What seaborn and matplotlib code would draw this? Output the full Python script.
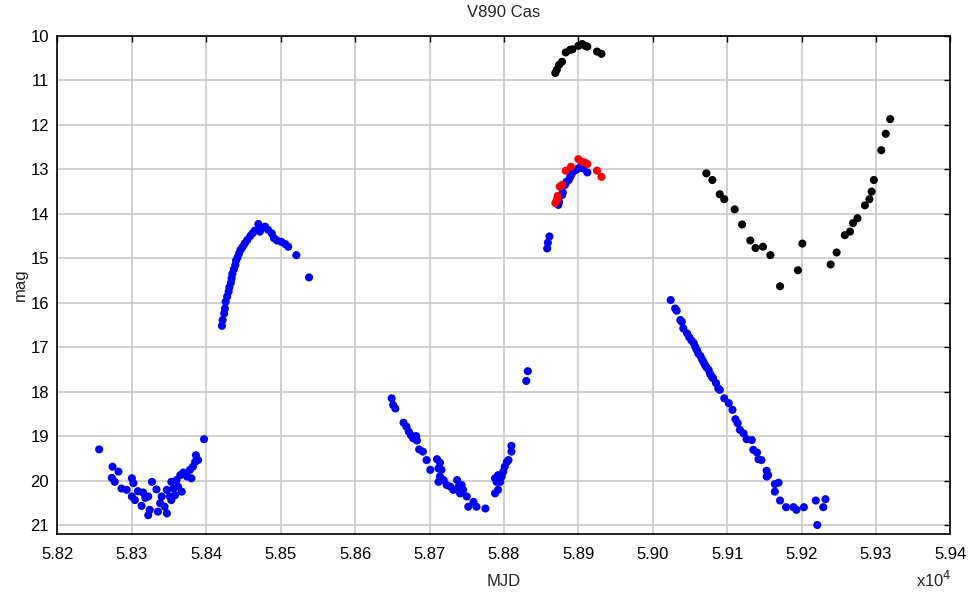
import numpy as np
import pandas as pd
import matplotlib
matplotlib.use("Agg")
import matplotlib.pyplot as plt
import seaborn as sns

# blue photometry (MJD, mag)
blue_mjd = [
    58256, 58397, 58274, 58282, 58273, 58277, 58286, 58293, 58300, 58302,
    58300, 58304, 58313, 58322, 58327, 58315, 58322, 58333, 58324, 58335,
    58347, 58338, 58344, 58340, 58347, 58353, 58356, 58360, 58367, 58365,
    58369, 58374, 58378, 58382, 58385, 58386, 58389, 58380, 58351, 58353,
    58358, 58362, 58318, 58308,
    58421, 58422, 58424, 58425, 58426, 58428, 58430, 58431, 58433, 58434,
    58435, 58437, 58439, 58440, 58442, 58444, 58446, 58449, 58452, 58455,
    58459, 58462, 58465, 58470, 58472, 58474, 58479, 58483, 58488, 58491,
    58495, 58501, 58506, 58510, 58521, 58538,
    58649, 58651, 58654, 58665, 58669, 58672, 58675, 58678, 58682, 58683,
    58686, 58691, 58696, 58701, 58710, 58714, 58712, 58716, 58714, 58712,
    58719, 58723, 58728, 58732, 58737, 58739, 58743, 58745, 58741, 58750,
    58752, 58759, 58763, 58775, 58788, 58792, 58790, 58788, 58792, 58795,
    58797, 58799, 58801, 58804, 58806, 58810, 58810, 58830, 58832,
    58861, 58859, 58858,
    58873, 58874, 58878, 58879, 58882, 58884, 58887, 58889, 58891, 58893,
    58897, 58900, 58903, 58906, 58912,
    59024, 59030, 59032, 59037, 59039, 59041, 59046, 59049, 59052, 59055,
    59057, 59059, 59061, 59064, 59066, 59068, 59070, 59072, 59075, 59077,
    59079, 59081, 59085, 59088, 59090, 59096, 59102, 59107, 59111, 59114,
    59117, 59122, 59126, 59133, 59135, 59140, 59142, 59146, 59153, 59155,
    59153, 59164, 59169, 59164, 59171, 59179, 59189, 59193, 59203, 59219,
    59232, 59229, 59221,
]
blue_mag = [
    19.30, 19.07, 19.69, 19.80, 19.94, 20.03, 20.18, 20.21, 19.95, 20.06,
    20.36, 20.44, 20.57, 20.78, 20.03, 20.27, 20.36, 20.20, 20.66, 20.70,
    20.74, 20.51, 20.59, 20.36, 20.21, 20.03, 20.18, 19.99, 20.25, 19.88,
    19.82, 19.91, 19.76, 19.69, 19.58, 19.43, 19.54, 19.95, 20.36, 20.44,
    20.33, 20.14, 20.39, 20.24,
    16.52, 16.39, 16.24, 16.13, 15.98, 15.86, 15.75, 15.65, 15.55, 15.45,
    15.35, 15.25, 15.15, 15.05, 14.98, 14.89, 14.81, 14.74, 14.66, 14.59,
    14.50, 14.44, 14.38, 14.23, 14.40, 14.33, 14.29, 14.36, 14.44, 14.55,
    14.60, 14.63, 14.68, 14.74, 14.93, 15.43,
    18.15, 18.30, 18.38, 18.70, 18.79, 18.90, 18.98, 19.05, 19.00, 19.10,
    19.30, 19.35, 19.54, 19.76, 19.52, 19.60, 19.73, 19.76, 19.91, 20.03,
    19.99, 20.10, 20.14, 20.21, 19.99, 20.14, 20.10, 20.21, 20.29, 20.36,
    20.59, 20.48, 20.59, 20.63, 19.95, 19.88, 20.03, 20.29, 20.21, 20.03,
    19.91, 19.80, 19.69, 19.58, 19.54, 19.35, 19.22, 17.76, 17.54,
    14.51, 14.65, 14.78,
    13.80, 13.73, 13.58, 13.52, 13.35, 13.28, 13.24, 13.17, 13.10, 13.05,
    13.01, 12.98, 12.94, 12.98, 13.07,
    15.94, 16.13, 16.18, 16.39, 16.43, 16.58, 16.69, 16.78, 16.85, 16.91,
    16.99, 17.06, 17.14, 17.20, 17.27, 17.33, 17.40, 17.45, 17.51, 17.60,
    17.66, 17.70, 17.81, 17.93, 17.96, 18.15, 18.26, 18.41, 18.62, 18.71,
    18.86, 18.94, 19.07, 19.09, 19.31, 19.37, 19.52, 19.54, 19.78, 19.88,
    19.91, 20.08, 20.05, 20.25, 20.45, 20.60, 20.60, 20.66, 20.60, 20.45,
    20.42, 20.60, 21.00,
]

# red photometry
red_mjd = [58869, 58871, 58872, 58875, 58878, 58883, 58890, 58900, 58905,
           58909, 58912, 58925, 58931]
red_mag = [13.76, 13.69, 13.60, 13.39, 13.35, 13.03, 12.94, 12.77, 12.83,
           12.85, 12.88, 13.03, 13.17]

# black photometry
black_mjd = [
    58869, 58871, 58874, 58878, 58883, 58889, 58892, 58900, 58905, 58909,
    58912, 58925, 58931,
    59072, 59080, 59090, 59096, 59110, 59120, 59131, 59138, 59148, 59158,
    59171, 59195, 59201, 59239, 59247, 59258, 59265, 59269, 59275, 59285,
    59291, 59294, 59297, 59307, 59313, 59319,
]
black_mag = [
    10.83, 10.76, 10.65, 10.58, 10.37, 10.31, 10.30, 10.22, 10.18, 10.22,
    10.24, 10.35, 10.40,
    13.09, 13.24, 13.56, 13.67, 13.90, 14.24, 14.60, 14.77, 14.74, 14.93,
    15.63, 15.27, 14.67, 15.14, 14.87, 14.48, 14.40, 14.21, 14.10, 13.81,
    13.67, 13.50, 13.24, 12.57, 12.20, 11.87,
]

df = pd.concat([
    pd.DataFrame({"MJD": blue_mjd, "mag": blue_mag, "band": "blue"}),
    pd.DataFrame({"MJD": black_mjd, "mag": black_mag, "band": "black"}),
    pd.DataFrame({"MJD": red_mjd, "mag": red_mag, "band": "red"}),
], ignore_index=True)

sns.set_style("whitegrid", {"grid.color": "#c8c8c8", "axes.edgecolor": "black"})
plt.rcParams["font.family"] = ["Liberation Sans", "DejaVu Sans"]

fig = plt.figure(figsize=(9.69, 5.94), dpi=100)
ax = fig.add_axes([0.0593, 0.1005, 0.9216, 0.8389])

sns.scatterplot(data=df, x="MJD", y="mag", hue="band",
                palette={"blue": "#0000ff", "black": "#000000", "red": "#ff0000"},
                s=34, linewidth=0, legend=False, ax=ax)

ax.set_xlim(58200, 59400)
ax.set_ylim(21.21, 10)
ax.set_xticks(np.arange(58200, 59401, 100))
ax.set_xticklabels([f"{v / 1e4:.2f}" for v in np.arange(58200, 59401, 100)])
ax.set_yticks(np.arange(10, 22, 1))
ax.grid(True, color="#c8c8c8", linewidth=1.2)
ax.set_axisbelow(True)

for sp in ax.spines.values():
    sp.set_color("black")
    sp.set_linewidth(1.2)

ax.tick_params(axis="both", direction="in", length=4, width=1, labelsize=12,
               colors="black", top=True, right=True, pad=6)
ax.tick_params(axis="x", pad=9)

ax.set_title("V890 Cas", fontsize=12, pad=14)
ax.set_xlabel("MJD", fontsize=12, labelpad=9)
ax.set_ylabel("mag", fontsize=12, labelpad=2)
fig.text(0.982, 0.012, r"x10$^4$", ha="right", va="baseline", fontsize=12)

plt.savefig("out.png", dpi=100)
